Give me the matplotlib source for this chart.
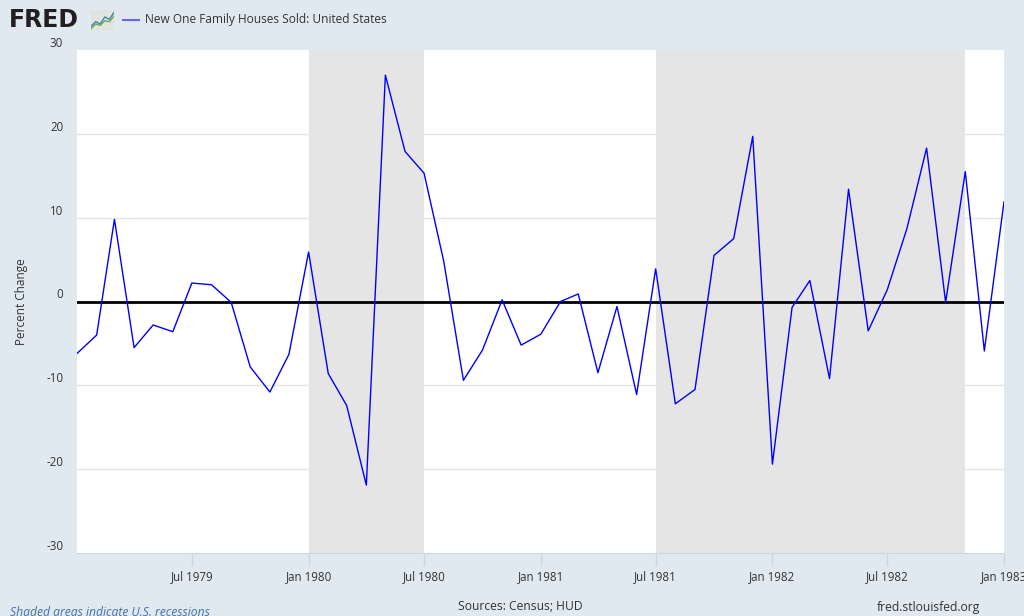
import datetime
import numpy as np
import matplotlib
matplotlib.use("Agg")
from matplotlib import pyplot as plt
import matplotlib.dates as mdates

plt.rcParams['font.family'] = ['Open Sans', 'DejaVu Sans']
plt.rcParams['axes.unicode_minus'] = False

# monthly percent change, Jan 1979 .. Jan 1983
start_year = 1979
pct_change = [-6.2, -4.0, 9.8, -5.5, -2.8, -3.6, 2.2, 2.0, -0.1, -7.8, -10.8, -6.3,
              5.9, -8.6, -12.4, -21.9, 27.0, 17.9, 15.3, 4.8, -9.4, -5.8, 0.2, -5.2,
              -3.9, 0.0, 0.9, -8.5, -0.6, -11.1, 3.9, -12.2, -10.5, 5.5, 7.5, 19.7,
              -19.4, -0.7, 2.5, -9.2, 13.4, -3.5, 1.4, 8.7, 18.3, -0.1, 15.5, -5.9,
              11.9]
recessions = [("1980-01-01", "1980-07-01"), ("1981-07-01", "1982-11-01")]
y_ticks = [-30, -20, -10, 0, 10, 20, 30]
series_name = "New One Family Houses Sold: United States"

dates = [datetime.date(start_year + i // 12, i % 12 + 1, 1) for i in range(len(pct_change))]

bg = '#e1e9f0'
fig = plt.figure(figsize=(10.24, 6.16), dpi=100, facecolor=bg)
ax = fig.add_axes([77/1024, 1-553/616, (1004-77)/1024, (553-50)/616])
ax.set_facecolor('white')

for a, b in recessions:
    ax.axvspan(np.datetime64(a), np.datetime64(b), color='#e5e5e5', lw=0, zorder=1)

for t in y_ticks[1:-1]:
    if t != 0:
        ax.axhline(t, color='#e6e6e6', lw=1, zorder=2)
ax.axhline(0, color='black', lw=2, zorder=3)

ax.plot(dates, pct_change, color='#0000ff', lw=1, zorder=4)

ax.set_xlim(datetime.date(1979, 1, 1), datetime.date(1983, 1, 1))
ax.set_ylim(-30, 30)
ax.set_yticks(y_ticks)
ax.xaxis.set_major_locator(mdates.MonthLocator(bymonth=[1, 7]))
ax.xaxis.set_major_formatter(mdates.DateFormatter('%b %Y'))
xt = [d for d in ax.get_xticks()]
ax.set_xticks(xt[1:])

for s in ['top', 'right', 'left']:
    ax.spines[s].set_visible(False)
ax.spines['bottom'].set_color('#ccd6eb')
ax.tick_params(axis='x', colors='#ccd6eb', length=9, width=1, labelcolor='#333333',
               labelsize=8.3, pad=3)
ax.tick_params(axis='y', length=0, labelcolor='#333333', labelsize=8.3, pad=10)
for lbl in ax.get_yticklabels():
    lbl.set_verticalalignment('bottom')
ax.set_ylabel('Percent Change', color='#333333', fontsize=8.5, labelpad=13)

# header
fig.text(9/1024, 1-20/616, 'FRED', fontsize=17, fontweight='heavy', color='#231f20',
         va='center', ha='left', family='DejaVu Sans')
icon = fig.add_axes([91/1024, 1-31/616, 23/1024, 21/616])
icon.set_facecolor('#dfe5dc')
icon.plot([0, 1, 2, 3, 4, 5], [1, 2, 1.5, 3, 2.5, 4], color='#4a7fb5', lw=1)
icon.plot([0, 1, 2, 3, 4, 5], [0.5, 1.5, 1.2, 2.2, 2.0, 3.2], color='#6aa84f', lw=1)
icon.set_xlim(0, 5)
icon.set_ylim(0, 4.5)
icon.set_xticks([])
icon.set_yticks([])
for s in icon.spines.values():
    s.set_visible(False)
fig.add_artist(plt.Line2D([123/1024, 139/1024], [1-20/616, 1-20/616], color='#6666ff', lw=1.5))
fig.text(145/1024, 1-20/616, series_name, fontsize=8.6, color='#333333', va='center')

# footer
fig.text(10/1024, 1-612/616, 'Shaded areas indicate U.S. recessions', fontsize=8.7,
         style='italic', color='#4572a7', va='center')
fig.text(520/1024, 1-607/616, 'Sources: Census; HUD', fontsize=8.7, color='#333333',
         ha='center', va='center')
fig.text(980/1024, 1-607/616, 'fred.stlouisfed.org', fontsize=8.7, color='#333333',
         ha='right', va='center')

fig.savefig('out.png', dpi=100, facecolor=bg)
